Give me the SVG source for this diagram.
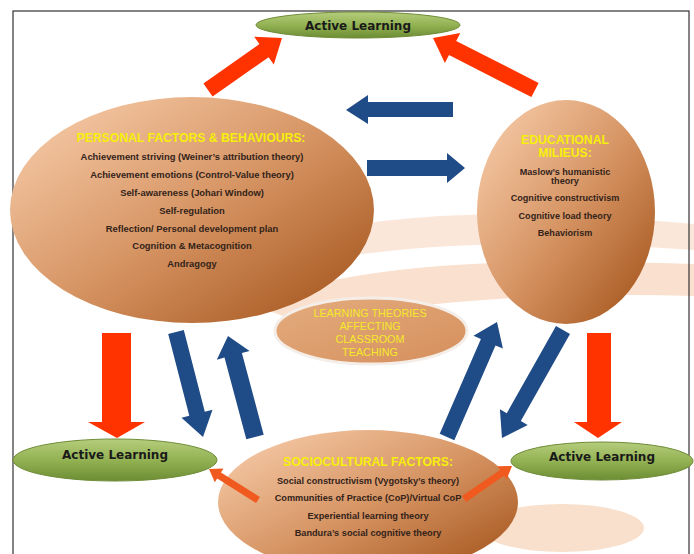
<svg xmlns="http://www.w3.org/2000/svg" width="694" height="554" viewBox="0 0 694 554">
<defs>
<linearGradient id="brown" x1="0.05" y1="0.1" x2="0.95" y2="0.95">
<stop offset="0" stop-color="#f5c9a6"/>
<stop offset="0.5" stop-color="#d69463"/>
<stop offset="1" stop-color="#a5551c"/>
</linearGradient>
<linearGradient id="green" x1="0" y1="0" x2="0" y2="1">
<stop offset="0" stop-color="#b5cd7c"/>
<stop offset="0.5" stop-color="#93b253"/>
<stop offset="1" stop-color="#6d8d34"/>
</linearGradient>
<linearGradient id="tan" x1="0" y1="0" x2="1" y2="1">
<stop offset="0" stop-color="#e4ac7e"/>
<stop offset="1" stop-color="#d58f5c"/>
</linearGradient>
<style>
.al{fill:url(#green);stroke:#6f8c38;stroke-width:1}
.alt{font-family:"DejaVu Sans","Liberation Sans",sans-serif;font-weight:bold;font-size:12px;fill:#1a1a1a;text-anchor:middle}
.big{fill:url(#brown)}
.ttl{font-family:"Liberation Sans",Arial,sans-serif;font-weight:bold;font-size:12.2px;fill:#f6ef0a;text-anchor:middle}
.body{font-family:"Liberation Sans",Arial,sans-serif;font-weight:bold;font-size:9.4px;fill:#33231a;text-anchor:middle}
.eb{font-size:9.1px}
.sb{font-size:9.2px}
.ctr{font-family:"Liberation Sans",Arial,sans-serif;font-size:10.8px;fill:#f4ea2a;text-anchor:middle}
.red{fill:#ff3300}
.blue{fill:#1f4b86}
.org{fill:#f05a1e}
</style>
</defs>
<rect width="694" height="554" fill="#ffffff"/>
<g id="background">
<path d="M300 236 C420 206 560 212 694 224 L694 250 C560 240 420 240 300 264 Z" fill="#fbe7da"/>
<path d="M250 304 C360 262 500 258 694 264 L694 296 C560 292 430 300 300 322 Z" fill="#fae1cf"/>
<ellipse cx="562" cy="528" rx="82" ry="24" fill="#f9e0cc"/>
<rect x="13" y="11" width="676" height="560" fill="none" stroke="#333333" stroke-width="1.2"/>
</g>
<g id="personal">
<ellipse class="big" cx="192" cy="210" rx="182" ry="113"/>
<text class="ttl" x="191" y="142">PERSONAL FACTORS &amp; BEHAVIOURS:</text>
<text class="body" x="192" y="160">Achievement striving (Weiner’s attribution theory)</text>
<text class="body" x="192" y="178">Achievement emotions (Control-Value theory)</text>
<text class="body" x="192" y="196">Self-awareness (Johari Window)</text>
<text class="body" x="192" y="214">Self-regulation</text>
<text class="body" x="192" y="232">Reflection/ Personal development plan</text>
<text class="body" x="192" y="249">Cognition &amp; Metacognition</text>
<text class="body" x="192" y="267">Andragogy</text>
</g>
<g id="educational">
<ellipse class="big" cx="566" cy="212" rx="89" ry="112"/>
<text class="ttl" x="565" y="144">EDUCATIONAL</text>
<text class="ttl" x="565" y="157">MILIEUS:</text>
<text class="body eb" x="565" y="175">Maslow’s humanistic</text>
<text class="body eb" x="565" y="184">theory</text>
<text class="body eb" x="565" y="201">Cognitive constructivism</text>
<text class="body eb" x="565" y="219">Cognitive load theory</text>
<text class="body eb" x="565" y="236">Behaviorism</text>
</g>
<g id="sociocultural">
<ellipse class="big" cx="368" cy="502" rx="150" ry="72"/>
<text class="ttl" x="368" y="466">SOCIOCULTURAL FACTORS:</text>
<text class="body sb" x="368" y="484">Social constructivism (Vygotsky’s theory)</text>
<text class="body sb" x="368" y="501">Communities of Practice (CoP)/Virtual CoP</text>
<text class="body sb" x="368" y="519">Experiential learning theory</text>
<text class="body sb" x="368" y="536">Bandura’s social cognitive theory</text>
</g>
<g id="center">
<ellipse cx="371" cy="331" rx="96" ry="33" fill="url(#tan)" stroke="#f4ede8" stroke-width="3"/>
<text class="ctr" x="370" y="317">LEARNING THEORIES</text>
<text class="ctr" x="370" y="330">AFFECTING</text>
<text class="ctr" x="370" y="343">CLASSROOM</text>
<text class="ctr" x="370" y="356">TEACHING</text>
</g>
<g id="connectors">
<polygon class="red" points="212.6,96.5 268.6,57.2 273.8,64.6 282,38 254.2,36.7 259.4,44.1 203.4,83.5"/>
<polygon class="red" points="538.6,82.9 456.2,40.9 460.3,32.9 433,38 444.9,63.1 449,55.1 531.4,97.1"/>
<polygon class="blue" points="453,102 368,102 368,95 346,110 368,124 368,117 453,117"/>
<polygon class="blue" points="367,160 447,160 447,153 465,168 447,183 447,176 367,176"/>
<polygon class="red" points="102,333 131,333 131,422 145,422 117,438 88,422 102,422"/>
<polygon class="red" points="587,333 611,333 611,422 622,422 598,438 574,422 587,422"/>
<polygon class="blue" points="168.2,334 189.3,415.7 181.5,417.7 203,437 212.5,409.7 204.8,411.7 183.8,330"/>
<polygon class="blue" points="263.7,434.7 241.9,353 249.6,350.9 228,336 216.8,359.7 224.5,357.6 246.3,439.3"/>
<polygon class="blue" points="454.3,440.2 495.5,345.4 502.9,348.6 497,322 473.5,335.8 480.9,339 439.7,433.8"/>
<polygon class="blue" points="570,333.9 520.8,421 527.7,425 502,438 499.9,409.2 506.8,413.2 556,326.1"/>
<polygon class="org" points="259.9,497 221,472.4 223.4,468.6 209,469 214.8,482.2 217.2,478.4 256.1,503"/>
<polygon class="org" points="466,501.9 504.1,475.7 506.6,479.4 512,466 497.6,466.2 500.1,469.9 462,496.1"/>
</g>
<g id="active-top">
<ellipse class="al" cx="358" cy="25" rx="102" ry="13"/>
<text class="alt" x="358" y="29.5">Active Learning</text>
</g>
<g id="active-left">
<ellipse class="al" cx="115" cy="460" rx="102" ry="21"/>
<text class="alt" x="115" y="459">Active Learning</text>
</g>
<g id="active-right">
<ellipse class="al" cx="602" cy="461" rx="91" ry="19"/>
<text class="alt" x="602" y="461">Active Learning</text>
</g>
</svg>
